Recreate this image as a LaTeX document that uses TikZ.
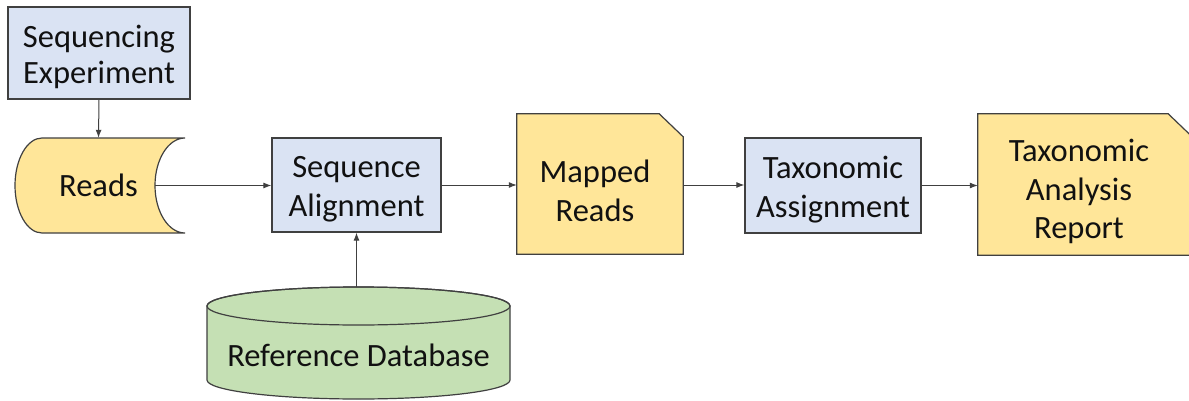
\documentclass[tikz,border=0pt]{standalone}
\usepackage{fontspec}
\setmainfont{Carlito}
\usetikzlibrary{arrows.meta,backgrounds}
\definecolor{bluefill}{HTML}{DAE3F3}
\definecolor{yellowfill}{HTML}{FFE699}
\definecolor{greenfill}{HTML}{C5E0B4}
\definecolor{edgecol}{HTML}{404040}
\definecolor{textcol}{HTML}{111111}
\tikzset{
  txt/.style={align=center, text=textcol, font=\fontsize{32.5}{38.5}\selectfont, inner sep=0pt},
  bluebox/.style={draw=edgecol, line width=1.2pt, fill=bluefill, rectangle, inner sep=0pt},
  shapeline/.style={draw=edgecol, line width=1.2pt},
  conn/.style={draw=edgecol, line width=1pt, -{Latex[length=8pt,width=6pt]}},
}
\begin{document}
\begin{tikzpicture}[x=1pt,y=1pt]
\clip (0,0) rectangle (1189,400);

% blue boxes
\node[bluebox, minimum width=182pt, minimum height=92pt] (seqexp) at (99,347) {};
\node[txt] (seqexptext) at ([yshift=-4pt]seqexp.center) {Sequencing\\[-2pt]Experiment};
\node[bluebox, minimum width=169pt, minimum height=94pt] (align) at (356.5,215) {};
\node[txt] (aligntext) at ([yshift=-4pt]align.center) {Sequence\\Alignment};
\node[bluebox, minimum width=176pt, minimum height=95pt] (tax) at (833,214.5) {};
\node[txt] (taxtext) at ([yshift=-4pt]tax.center) {Taxonomic\\Assignment};

% nodes for the drawn shapes
\node[txt, minimum width=113pt, minimum height=95pt] (reads) at (98.5,214.5) {Reads};
\node[minimum width=166pt, minimum height=140pt, inner sep=0pt] (mapped) at (600,216) {};
\node[txt] (mappedtext) at ([xshift=-5pt,yshift=-7pt]mapped.center) {Mapped\\Reads};
\node[minimum width=214pt, minimum height=141pt, inner sep=0pt] (report) at (1085,215.5) {};
\node[txt] (reporttext) at ([xshift=-6pt,yshift=-7pt]report.center) {Taxonomic\\Analysis\\Report};
\node[txt, minimum width=303pt] (refdb) at (358.5,45) {Reference Database};
\coordinate (refdbtop) at (356.5,113);

\begin{scope}[on background layer]
  \fill[white] (0,0) rectangle (1189,400);
  % Reads: stored data shape
  \path[shapeline, fill=yellowfill]
    (42,262) -- (185,262)
    .. controls (168.4,262) and (155,240.7) .. (155,214.5)
    .. controls (155,188.3) and (168.4,167) .. (185,167)
    -- (42,167)
    .. controls (27.1,167) and (15,188.3) .. (15,214.5)
    .. controls (15,240.7) and (27.1,262) .. (42,262) -- cycle;
  % Mapped Reads: document with cut corner
  \path[shapeline, fill=yellowfill]
    (mapped.south west) -- (mapped.north west)
    -- ([xshift=-24pt]mapped.north east) -- ([yshift=-23pt]mapped.north east)
    -- (mapped.south east) -- cycle;
  % Report
  \path[shapeline, fill=yellowfill]
    (report.south west) -- (report.north west)
    -- ([xshift=-24pt]report.north east) -- ([yshift=-23pt]report.north east)
    -- (report.south east) -- cycle;
  % Reference Database cylinder
  \path[shapeline, fill=greenfill]
    (207,94) -- (207,20)
    arc[start angle=180, end angle=360, x radius=151.5pt, y radius=19pt]
    -- (510,94)
    arc[start angle=0, end angle=180, x radius=151.5pt, y radius=19pt] -- cycle;
  \draw[shapeline] (358.5,94) ellipse[x radius=151.5pt, y radius=19pt];
\end{scope}

% connectors
\draw[conn] (seqexp.south) -- (reads.north);
\draw[conn] (reads.east) -- (reads.east -| align.west);
\draw[conn] (align.east) -- (align.east -| mapped.west);
\draw[conn] (align.east -| mapped.east) -- (align.east -| tax.west);
\draw[conn] (tax.east) -- (tax.east -| report.west);
\draw[conn] (refdbtop) -- (align.south);
\end{tikzpicture}
\end{document}
